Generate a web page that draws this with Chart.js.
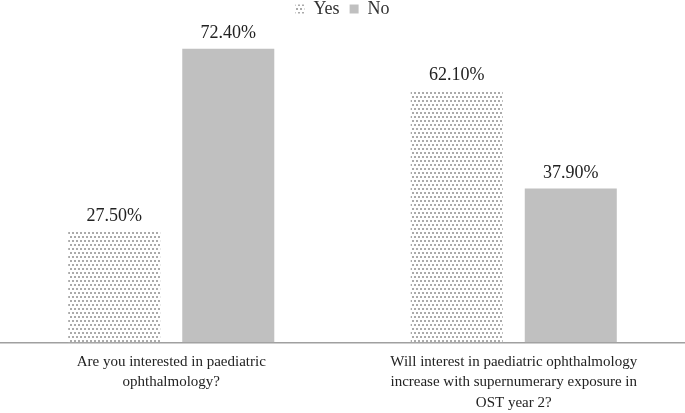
<!DOCTYPE html>
<html><head><meta charset="utf-8">
<script src="https://cdn.jsdelivr.net/npm/chart.js@4.4.1/dist/chart.umd.min.js"></script>
<style>html,body{margin:0;padding:0;background:#fff}#wrap{width:685px;height:413px}</style>
</head><body><div id="wrap"><canvas id="c"></canvas></div>
<script>
const categories = [
  ["Are you interested in paediatric", "ophthalmology?"],
  ["Will interest in paediatric ophthalmology", "increase with supernumerary exposure in", "OST year 2?"]
];
const seriesNames = ["Yes", "No"];
const yesValues = [27.5, 62.1];
const noValues = [72.4, 37.9];

// dotted fill like the original "Yes" bars
function dots(){
  const p = document.createElement("canvas"); p.width = 8; p.height = 8;
  const g = p.getContext("2d");
  g.fillStyle = "#fff"; g.fillRect(0, 0, 8, 8);
  g.fillStyle = "#aaa";
  g.fillRect(0, 0, 2, 2); g.fillRect(4, 0, 2, 2);
  g.fillRect(2, 4, 2, 2); g.fillRect(6, 4, 2, 2);
  return g.createPattern(p, "repeat");
}

const valueLabels = {
  id: "valueLabels",
  afterDatasetsDraw(chart){
    const ctx = chart.ctx;
    ctx.save();
    ctx.font = "18px 'Liberation Serif'"; ctx.fillStyle = "#222";
    ctx.textAlign = "center"; ctx.textBaseline = "bottom";
    chart.data.datasets.forEach((ds, i) => {
      chart.getDatasetMeta(i).data.forEach((el, j) => {
        ctx.fillText(ds.data[j].toFixed(2) + "%", el.x, el.y - 6);
      });
    });
    ctx.restore();
  }
};

new Chart(document.getElementById("c"), {
  type: "bar",
  data: {
    labels: categories,
    datasets: [
      {label: seriesNames[0], data: yesValues, backgroundColor: dots(), borderWidth: 0},
      {label: seriesNames[1], data: noValues, backgroundColor: "#c0c0c0", borderWidth: 0}
    ]
  },
  options: {
    responsive: true, maintainAspectRatio: false, animation: false,
    layout: {padding: {left: 0, right: 0, top: -10, bottom: -9}},
    datasets: {bar: {categoryPercentage: 0.666, barPercentage: 0.807}},
    plugins: {
      legend: {position: "top", labels: {boxWidth: 9, boxHeight: 9, padding: 10,
        font: {family: "'Liberation Serif'", size: 18}, color: "#333"}},
      tooltip: {enabled: false}
    },
    scales: {
      x: {grid: {display: false, drawTicks: false}, border: {color: "#a0a0a0", width: 1.5},
        ticks: {font: {family: "'Liberation Serif'", size: 15, lineHeight: 1.37}, color: "#222",
          padding: 9, maxRotation: 0, autoSkip: false}},
      y: {display: false, min: 0, max: 77.5}
    }
  },
  plugins: [valueLabels]
});
</script></body></html>
